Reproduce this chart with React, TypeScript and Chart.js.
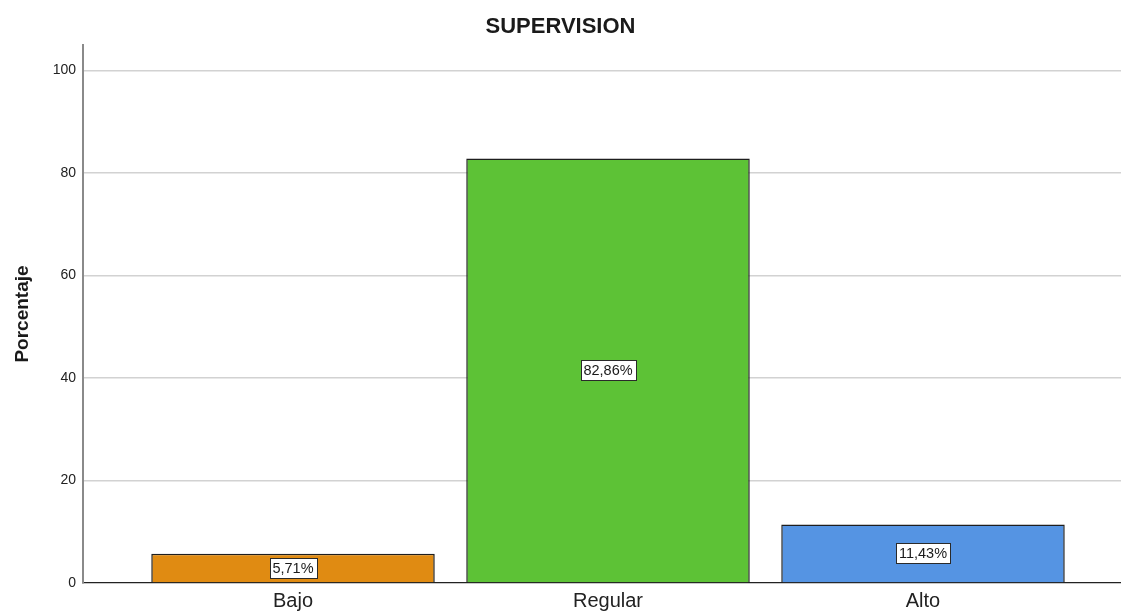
import React, { useEffect, useRef } from "react";
import { Chart, registerables } from "chart.js";

Chart.register(...registerables);

const categories = ["Bajo", "Regular", "Alto"];
const percentages = [5.71, 82.86, 11.43];
const percentageLabels = ["5,71%", "82,86%", "11,43%"];
const barColors = ["#E08B12", "#5DC236", "#5594E3"];
const yTickValues = [0, 20, 40, 60, 80, 100];
const chartTitle = "SUPERVISION";
const yAxisTitle = "Porcentaje";
const yMax = 105;
const xMin = -0.6667;
const xMax = 2.6286;

const FONT = "'Liberation Sans', Arial, sans-serif";

const valueBoxPlugin = {
  id: "valueBoxes",
  afterDatasetsDraw(chart: any) {
    const ctx = chart.ctx;
    const meta = chart.getDatasetMeta(0);
    ctx.save();
    ctx.font = `14.5px ${FONT}`;
    ctx.textAlign = "center";
    ctx.textBaseline = "middle";
    meta.data.forEach((bar: any, i: number) => {
      const label = percentageLabels[i];
      const cx = bar.x;
      const cy = (bar.y + bar.base) / 2;
      const w = Math.round(ctx.measureText(label).width + 6);
      const h = 20;
      const left = Math.round(cx - w / 2) + 0.5;
      const top = Math.round(cy - h / 2) + 0.5;
      ctx.fillStyle = "#ffffff";
      ctx.fillRect(left, top, w, h);
      ctx.strokeStyle = "#2a2a2a";
      ctx.lineWidth = 1;
      ctx.strokeRect(left, top, w, h);
      ctx.fillStyle = "#1a1a1a";
      ctx.fillText(label, cx, cy + 1);
    });
    ctx.restore();
  },
};

export default function App() {
  const canvasRef = useRef<HTMLCanvasElement | null>(null);

  useEffect(() => {
    if (!canvasRef.current) return;
    const chart = new Chart(canvasRef.current, {
      type: "bar",
      data: {
        datasets: [
          {
            data: categories.map((_, i) => ({ x: i, y: percentages[i] })),
            backgroundColor: barColors,
            borderColor: "#1e1e1e",
            borderWidth: 1.5,
            categoryPercentage: 0.9,
            barPercentage: 1,
          },
        ],
      },
      options: {
        responsive: false,
        animation: false,
        devicePixelRatio: 1,
        layout: { padding: { left: 0, right: 0, top: 0, bottom: 0 } },
        plugins: {
          legend: { display: false },
          tooltip: { enabled: false },
          title: {
            display: true,
            text: chartTitle,
            color: "#1a1a1a",
            font: { family: FONT, size: 22, weight: "bold" },
            padding: { top: 14, bottom: 4.6 },
          },
        },
        scales: {
          x: {
            type: "linear",
            min: xMin,
            max: xMax,
            offset: false,
            grid: { display: false, drawTicks: false, offset: false },
            border: { display: true, color: "#222222", width: 1.2 },
            afterBuildTicks: (scale: any) => {
              scale.ticks = categories.map((_, i) => ({ value: i }));
            },
            afterFit: (scale: any) => {
              scale.height = 33;
            },
            ticks: {
              autoSkip: false,
              maxRotation: 0,
              padding: 6,
              color: "#222222",
              font: { family: FONT, size: 20 },
              callback: (v: any) => categories[v] ?? "",
            },
          },
          y: {
            type: "linear",
            min: 0,
            max: yMax,
            afterBuildTicks: (scale: any) => {
              scale.ticks = yTickValues.map((v) => ({ value: v }));
            },
            afterFit: (scale: any) => {
              scale.width = 83;
            },
            grid: {
              drawTicks: false,
              color: (c: any) => (c.tick && c.tick.value === 0 ? "rgba(0,0,0,0)" : "#d2d2d2"),
              lineWidth: 1.5,
            },
            border: { display: true, color: "#8a8a8a", width: 2 },
            ticks: {
              padding: 7,
              color: "#222222",
              font: { family: FONT, size: 14 },
            },
            title: {
              display: true,
              text: yAxisTitle,
              color: "#1a1a1a",
              font: { family: FONT, size: 19, weight: "bold" },
              padding: { top: 11, bottom: 0 },
            },
          },
        },
      },
      plugins: [valueBoxPlugin],
    } as any);
    return () => chart.destroy();
  }, []);

  return (
    <div style={{ position: "fixed", left: 0, top: 0, width: 1121, height: 616, background: "#ffffff" }}>
      <canvas ref={canvasRef} width={1121} height={616} style={{ display: "block" }} />
    </div>
  );
}
